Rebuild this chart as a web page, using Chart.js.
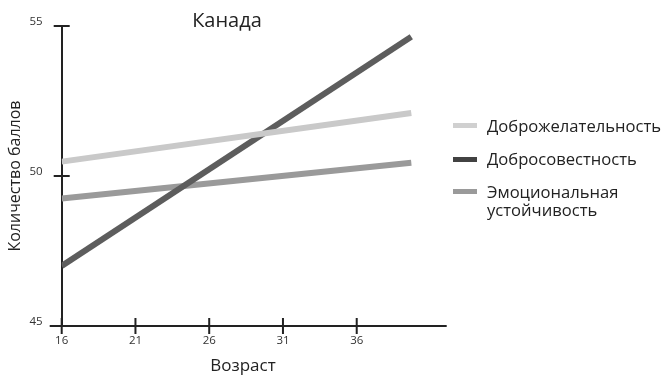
<!DOCTYPE html>
<html>
<head>
<meta charset="utf-8">
<script src="https://cdn.jsdelivr.net/npm/chart.js@4.4.1/dist/chart.umd.min.js"></script>
<style>
  body { margin: 0; background: #fff; font-family: "Open Sans", sans-serif; color: #222; }
  #wrap { position: relative; width: 667px; height: 381px; }
  #chart { position: absolute; left: 0; top: 0; }
  .title { position: absolute; left: 227px; top: 19px; transform: translate(-50%, -50%); font-size: 20px; white-space: nowrap; }
  .xtitle { position: absolute; left: 243px; top: 364px; transform: translate(-50%, -50%); font-size: 17px; white-space: nowrap; }
  .legend { position: absolute; left: 453px; top: 0; font-size: 16.6px; }
  .legend-item { position: absolute; left: 0; width: 220px; }
  .legend-item .swatch { position: absolute; left: 0; width: 24px; height: 5px; margin-top: -2.5px; }
  .legend-item .label { position: absolute; left: 34px; line-height: 18.5px; white-space: nowrap; transform: translateY(-9.5px); }
</style>
</head>
<body>
<div id="wrap">
  <canvas id="chart" width="667" height="381"></canvas>
  <div class="title">Канада</div>
  <div class="xtitle">Возраст</div>
  <div class="legend" id="legend"></div>
</div>
<script>
// Data
const ages = [16, 39.7];
const agreeableness = [50.48, 52.1];
const conscientiousness = [47.0, 54.64];
const emotionalStability = [49.25, 50.44];

const seriesNames = ['Доброжелательность', 'Добросовестность', 'Эмоциональная\nустойчивость'];
const lineColors = ['#c9c9c9', '#5d5d5d', '#9a9a9a'];
const legendColors = ['#d0d0d0', '#424242', '#9a9a9a'];

const xTicks = [16, 21, 26, 31, 36];
const yTicks = [45, 50, 55];

const toPoints = (ys) => ys.map((y, i) => ({ x: ages[i], y }));

// Draws ticks crossing the axis lines and extends the x axis to the left
const crossTicks = {
    id: 'crossTicks',
    afterDraw(chart) {
        const { ctx, scales: { x, y } } = chart;
        const axisX = x.getPixelForValue(16);
        const axisY = y.getPixelForValue(45);
        ctx.save();
        ctx.strokeStyle = '#222';
        ctx.lineWidth = 2;
        ctx.beginPath();
        ctx.moveTo(axisX - 12, axisY);
        ctx.lineTo(x.right, axisY);
        xTicks.forEach(v => {
            const px = x.getPixelForValue(v);
            ctx.moveTo(px, axisY - 8);
            ctx.lineTo(px, axisY + 8);
        });
        yTicks.forEach(v => {
            const py = y.getPixelForValue(v);
            ctx.moveTo(axisX - 8, py);
            ctx.lineTo(axisX + 8, py);
        });
        ctx.stroke();
        ctx.restore();
    }
};

const datasets = [agreeableness, conscientiousness, emotionalStability].map((ys, i) => ({
    label: seriesNames[i],
    data: toPoints(ys),
    borderColor: lineColors[i],
    borderWidth: 6,
    borderCapStyle: 'butt',
    pointRadius: 0,
    fill: false,
    tension: 0
}));

new Chart(document.getElementById('chart'), {
    type: 'line',
    data: { datasets },
    options: {
        responsive: false,
        animation: false,
        devicePixelRatio: 1,
        layout: { padding: { left: 0, right: 220.3, top: 26, bottom: 25 } },
        plugins: {
            legend: { display: false },
            title: { display: false },
            tooltip: { enabled: false }
        },
        scales: {
            x: {
                type: 'linear',
                min: 16,
                max: 42.1,
                afterFit: (scale) => { scale.height = 30; },
                afterBuildTicks: (scale) => { scale.ticks = xTicks.map(v => ({ value: v })); },
                grid: { display: false, drawTicks: false },
                border: { display: false },
                ticks: {
                    padding: 8,
                    color: '#333',
                    font: { family: 'Open Sans', size: 11.5 },
                    maxRotation: 0
                }
            },
            y: {
                min: 45,
                max: 55,
                afterFit: (scale) => { scale.width = 61.7; },
                afterBuildTicks: (scale) => { scale.ticks = yTicks.map(v => ({ value: v })); },
                grid: { display: false, drawTicks: false },
                border: { display: true, color: '#222', width: 2 },
                ticks: {
                    padding: 19,
                    labelOffset: -4,
                    color: '#333',
                    font: { family: 'Open Sans', size: 11.5 }
                },
                title: {
                    display: true,
                    text: 'Количество баллов',
                    color: '#222',
                    font: { family: 'Open Sans', size: 16 },
                    padding: { top: 6, bottom: 0 }
                }
            }
        }
    },
    plugins: [crossTicks]
});

// Legend built as HTML next to the plot
const legendRows = [125.7, 159, 191.7];
const legend = document.getElementById('legend');
seriesNames.forEach((name, i) => {
    const item = document.createElement('div');
    item.className = 'legend-item';
    item.style.top = legendRows[i] + 'px';
    item.innerHTML = `<div class="swatch" style="background:${legendColors[i]}"></div>` +
        `<div class="label">${name.replace('\n', '<br>')}</div>`;
    legend.appendChild(item);
});
</script>
</body>
</html>
